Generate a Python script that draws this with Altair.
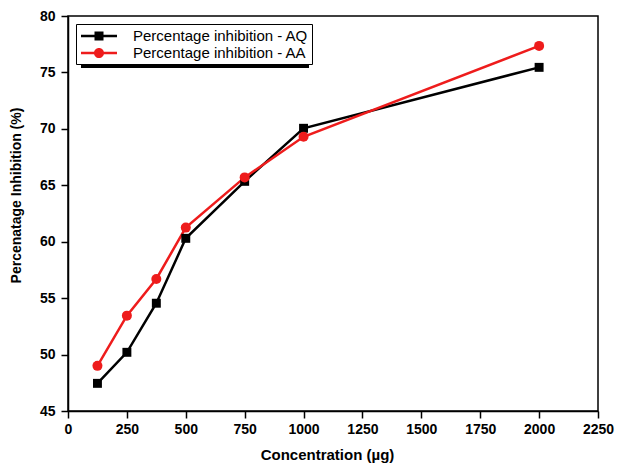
import altair as alt
import pandas as pd

concentration = [125, 250, 375, 500, 750, 1000, 2000]
inhibition_aq = [47.45, 50.2, 54.55, 60.3, 65.35, 70.05, 75.45]
inhibition_aa = [49.0, 53.45, 56.7, 61.25, 65.7, 69.3, 77.35]
series_names = ["Percentage inhibition - AQ", "Percentage inhibition - AA"]
series_colors = ["#000000", "#ee1c1c"]
x_ticks = [0, 250, 500, 750, 1000, 1250, 1500, 1750, 2000, 2250]
y_ticks = [45, 50, 55, 60, 65, 70, 75, 80]

rows = []
for c, v in zip(concentration, inhibition_aq):
    rows.append({"conc": c, "val": v, "series": series_names[0]})
for c, v in zip(concentration, inhibition_aa):
    rows.append({"conc": c, "val": v, "series": series_names[1]})
df = pd.DataFrame(rows)

FONT = "Liberation Sans"

x_enc = alt.X("conc:Q",
              scale=alt.Scale(domain=[0, 2250], nice=False, zero=False),
              axis=alt.Axis(values=x_ticks, format="d", title="Concentration (µg)", grid=False,
                            labelFontWeight="bold", labelFontSize=14, labelFont=FONT,
                            titleFont=FONT, titleFontSize=15, titleFontWeight="bold",
                            tickSize=7, tickColor="black", domainColor="black",
                            tickWidth=1.5, domainWidth=1.5, labelPadding=4,
                            labelColor="black", titleColor="black",
                            titleX=259, titleY=48, titleBaseline="alphabetic",
                            labelFlush=False, labelOverlap=False))
y_enc = alt.Y("val:Q",
              scale=alt.Scale(domain=[45, 80], nice=False, zero=False),
              axis=alt.Axis(values=y_ticks, title="Percenatage Inhibition (%)", grid=False,
                            labelFontWeight="bold", labelFontSize=14, labelFont=FONT,
                            titleFont=FONT, titleFontSize=14, titleFontWeight="bold",
                            tickSize=7, tickColor="black", domainColor="black",
                            tickWidth=1.5, domainWidth=1.5, labelPadding=6,
                            labelColor="black", titleColor="black",
                            titleX=-52, titleY=179, titleBaseline="middle",
                            labelFlush=False, labelOverlap=False))

line_aq = alt.Chart(df).transform_filter(
    alt.datum.series == series_names[0]
).mark_line(strokeWidth=2.5, color=series_colors[0]).encode(x=x_enc, y=y_enc)

line_aa = alt.Chart(df).transform_filter(
    alt.datum.series == series_names[1]
).mark_line(strokeWidth=2.5, color=series_colors[1]).encode(x="conc:Q", y="val:Q")

pts_aq = alt.Chart(df).transform_filter(
    alt.datum.series == series_names[0]
).mark_point(shape="square", filled=True, size=80, opacity=1, color=series_colors[0]).encode(
    x="conc:Q", y="val:Q")

pts_aa = alt.Chart(df).transform_filter(
    alt.datum.series == series_names[1]
).mark_point(shape="circle", filled=True, size=100, opacity=1, color=series_colors[1]).encode(
    x="conc:Q", y="val:Q")

# legend-only layer (invisible marks): filled line-with-marker legend symbols
legend_paths = [
    "M-2,-0.14H2V0.14H-2ZM-0.5,-0.5H0.5V0.5H-0.5Z",
    "M-2,-0.14H2V0.14H-2ZM0.56,0A0.56,0.56 0 1 1 -0.56,0A0.56,0.56 0 1 1 0.56,0Z",
]
leg = alt.Legend(title=None, orient="top-left", offset=8,
                 labelFont=FONT, labelFontSize=15, labelColor="black",
                 labelLimit=400, symbolSize=324, symbolStrokeWidth=0,
                 symbolOpacity=1, strokeColor="black", fillColor="white",
                 padding=3, rowPadding=0, labelOffset=25, symbolOffset=11)
legend_layer = alt.Chart(df).mark_point(
    filled=True, opacity=0).encode(
    x="conc:Q", y="val:Q",
    fill=alt.Fill("series:N", scale=alt.Scale(domain=series_names, range=series_colors), legend=leg),
    shape=alt.Shape("series:N", scale=alt.Scale(domain=series_names, range=legend_paths), legend=leg),
)

# legend drop shadow
shadow = alt.Chart(df).mark_rect(color="black").encode(
    x=alt.value(13), x2=alt.value(241), y=alt.value(12), y2=alt.value(52))

chart = alt.layer(shadow, line_aq, line_aa, pts_aq, pts_aa, legend_layer).properties(
    width=530, height=395,
    autosize=alt.AutoSizeParams(type="none"),
    padding={"left": 68, "top": 16, "right": 19, "bottom": 55},
    background="white",
).configure_view(stroke="black", strokeWidth=1.5)

chart.save("out.html", embed_options={"renderer": "svg", "actions": False})
